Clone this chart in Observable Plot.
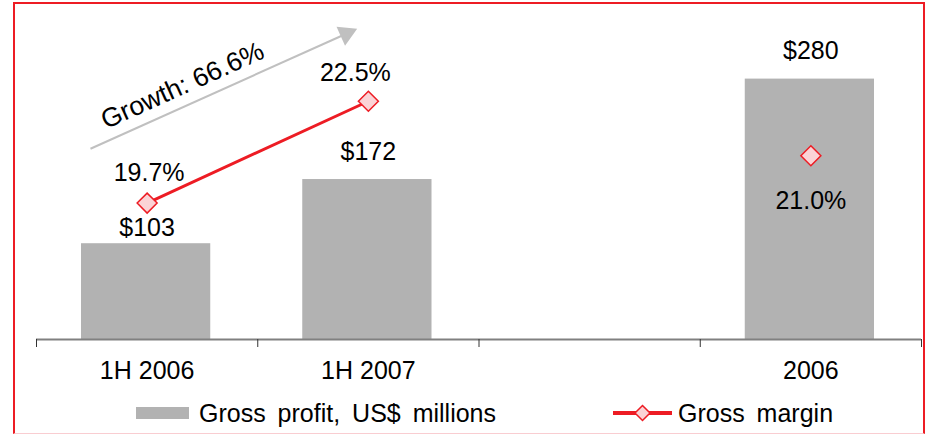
<!DOCTYPE html>
<html>
<head>
<meta charset="utf-8">
<script src="https://cdn.jsdelivr.net/npm/d3@7"></script>
<script src="https://cdn.jsdelivr.net/npm/@observablehq/plot@0.6"></script>
<style>
  html, body { margin: 0; padding: 0; background: #fff; }
  #wrap { position: relative; width: 926px; height: 434px; overflow: hidden;
          font-family: "Liberation Sans", Arial, sans-serif; color: #000; }
  #wrap svg { display: block; }
  #frame { position: absolute; left: 13px; top: 2px; width: 908px; height: 429px;
           border-top: 2px solid #ed1c24; border-left: 2px solid #ed1c24; border-right: 2px solid #ed1c24;
           border-bottom: 1px solid #f9cdd1; pointer-events: none; }
  .leg { position: absolute; font-size: 25px; line-height: 30px; word-spacing: 5px; white-space: nowrap; }
</style>
</head>
<body>
<div id="wrap"></div>
<script>
// ---- data ----
const categories   = ["1H 2006", "1H 2007", "", "2006"];
const grossProfit  = [103, 172, null, 280];        // US$ millions
const grossMargin  = [19.7, 22.5, null, 21.0];     // %
const growthLabel  = "Growth: 66.6%";
const seriesNames  = ["Gross profit, US$ millions", "Gross margin"];

const rows = categories.map((c, i) => ({i, category: c, profit: grossProfit[i], margin: grossMargin[i]}));
const barRows = rows.filter(d => d.profit != null);
const marginRows = rows.filter(d => d.margin != null);

const FONT = '"Liberation Sans", Arial, sans-serif';
const RED = "#ed1c24", PINK = "#fbd3d6", BAR = "#b2b2b2", ARROW = "#c0c0c0";

const common = {
  width: 926, height: 400,
  marginLeft: 36, marginRight: 5, marginTop: 60, marginBottom: 61,
  x: {type: "linear", domain: [0, categories.length], axis: null},
  style: {fontFamily: FONT, fontSize: "25px", color: "#000", background: "transparent", overflow: "visible"}
};

// Primary chart: bars (US$ millions)
const plotBars = Plot.plot({
  ...common,
  y: {domain: [0, 300], axis: null},
  marks: [
    Plot.rectY(barRows, {x1: "i", x2: d => d.i + 1, y: "profit", fill: BAR, insetLeft: 45, insetRight: 47}),
    Plot.ruleY([0], {stroke: "#808080", strokeWidth: 2}),
    Plot.axisX({ticks: d3.range(categories.length + 1), tickSize: 8, tickFormat: () => "", stroke: "#333", strokeWidth: 1}),
    Plot.axisX({ticks: categories.map((c, i) => i + 0.5), tickSize: 0, tickPadding: 22,
                tickFormat: d => categories[Math.floor(d)], fontSize: 25, fill: "#000"}),
    Plot.text(barRows.filter(d => d.i === 0), {x: d => d.i + 0.5, y: "profit", text: d => "$" + d.profit, dy: -16, fontSize: 25, fill: "#000"}),
    Plot.text(barRows.filter(d => d.i !== 0), {x: d => d.i + 0.5, y: "profit", text: d => "$" + d.profit, dy: -28, fontSize: 25, fill: "#000"}),
    // growth annotation arrow
    Plot.link([{x1: 0.244, y1: 205.1, x2: 1.40, y2: 328.8}], {x1: "x1", y1: "y1", x2: "x2", y2: "y2", stroke: ARROW, strokeWidth: 2}),
    Plot.dot([{x: 1.40, y: 328.8}], {x: "x", y: "y", symbol: "triangle", r: 7.7, fill: ARROW, rotate: 65.8}),
    Plot.text([growthLabel], {x: () => 0.66, y: () => 273, text: d => d, rotate: -24.2, fontSize: 26.5, fill: "#000"})
  ]
});

// Secondary chart: gross margin (%)
const plotMargin = Plot.plot({
  ...common,
  y: {domain: [15.95, 23.62], axis: null},
  marks: [
    Plot.line(rows, {x: d => d.i + 0.5, y: "margin", stroke: RED, strokeWidth: 3}),
    Plot.dot(marginRows, {x: d => d.i + 0.5, y: "margin", symbol: "diamond2", r: 9, fill: PINK, stroke: RED, strokeWidth: 1.5}),
    Plot.text(marginRows.filter(d => d.i === 0), {x: d => d.i + 0.5, y: "margin", text: d => d.margin.toFixed(1) + "%", dx: 2, dy: -30, fontSize: 25, fill: "#000"}),
    Plot.text(marginRows.filter(d => d.i === 1), {x: d => d.i + 0.5, y: "margin", text: d => d.margin.toFixed(1) + "%", dx: -13, dy: -28, fontSize: 25, fill: "#000"}),
    Plot.text(marginRows.filter(d => d.i === 3), {x: d => d.i + 0.5, y: "margin", text: d => d.margin.toFixed(1) + "%", dy: 45, fontSize: 25, fill: "#000"})
  ]
});

const wrap = document.getElementById("wrap");
wrap.appendChild(plotBars);
plotMargin.style.position = "absolute";
plotMargin.style.left = "0px";
plotMargin.style.top = "0px";
wrap.appendChild(plotMargin);

// Legend (below the SVG area)
const sw1 = document.createElement("div");
sw1.style.cssText = `position:absolute;left:136px;top:407px;width:53px;height:12px;background:${BAR};`;
wrap.appendChild(sw1);
const t1 = document.createElement("span");
t1.className = "leg"; t1.style.left = "199px"; t1.style.top = "398px"; t1.textContent = seriesNames[0];
wrap.appendChild(t1);

const sw2 = document.createElementNS("http://www.w3.org/2000/svg", "svg");
sw2.setAttribute("width", 64); sw2.setAttribute("height", 22);
sw2.style.cssText = "position:absolute;left:611px;top:402px;";
sw2.innerHTML = `<line x1="2" y1="11" x2="61" y2="11" stroke="${RED}" stroke-width="4"/>
  <path d="M31.5,3.5 L39,11 L31.5,18.5 L24,11 Z" fill="${PINK}" stroke="${RED}" stroke-width="1.5"/>`;
wrap.appendChild(sw2);
const t2 = document.createElement("span");
t2.className = "leg"; t2.style.left = "678px"; t2.style.top = "398px"; t2.textContent = seriesNames[1];
wrap.appendChild(t2);

const frame = document.createElement("div");
frame.id = "frame";
wrap.appendChild(frame);
</script>
</body>
</html>
